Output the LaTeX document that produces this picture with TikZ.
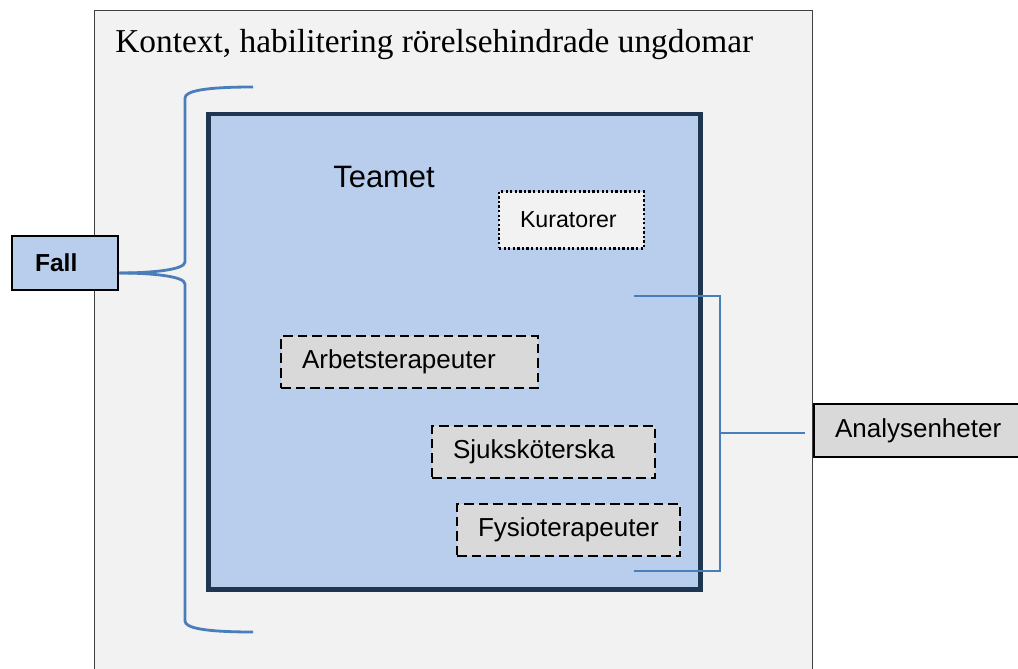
\documentclass[tikz,border=0pt]{standalone}
\usepackage{fontspec}
\setmainfont{Liberation Serif}
\setsansfont{Liberation Sans}
\definecolor{kontextgrau}{HTML}{F2F2F2}
\definecolor{boxgrau}{HTML}{D9D9D9}
\definecolor{ramgrau}{HTML}{404040}
\definecolor{teamblau}{HTML}{B8CEEC}
\definecolor{teamram}{HTML}{1F3651}
\definecolor{klammerblau}{HTML}{4A7EBB}
\tikzset{
  enhet/.style={rectangle, draw=black, fill=boxgrau, line width=1.5pt,
    dash pattern=on 5.5pt off 2.8pt, inner xsep=0.42cm, inner ysep=0pt,
    minimum height=1.04cm, align=left, font=\sffamily\fontsize{14.8}{17}\selectfont},
  rubrikbox/.style={rectangle, draw=black, line width=1.6pt, inner ysep=0pt,
    align=left, font=\sffamily\fontsize{14.8}{17}\selectfont},
  klammer/.style={draw=klammerblau, line width=1.6pt},
}
\begin{document}
\begin{tikzpicture}[x=0.02cm, y=-0.02cm]
    \useasboundingbox (0,0) rectangle (1018,669);
    % Kontext
    \fill[kontextgrau] (94.5,10.5) rectangle (812.5,680);
    \draw[ramgrau, line width=0.6pt] (94.5,680) -- (94.5,10.5) -- (812.5,10.5) -- (812.5,680);
    \node[anchor=base west, inner sep=0pt, font=\rmfamily\fontsize{19}{23}\selectfont]
        (kontext) at (115,53) {Kontext, habilitering rörelsehindrade ungdomar};
    % Teamet
    \draw[teamram, fill=teamblau, line width=2.8pt] (208.5,114) rectangle (700.5,589.5);
    \node[anchor=base west, inner sep=0pt, font=\sffamily\fontsize{17.6}{20}\selectfont]
        (teamet) at (333,188) {Teamet};
    \node[enhet, dash pattern=on 1.3pt off 1.3pt, fill=kontextgrau, minimum height=1.14cm,
        text width=2.06cm, font=\sffamily\fontsize{13.2}{15}\selectfont]
        (kuratorer) at (571.5,220) {Kuratorer};
    \node[enhet, text width=4.30cm] (arbets) at (409.5,362) {Arbetsterapeuter};
    \node[enhet, text width=3.62cm] (sjuk) at (543.5,452) {Sjuksköterska};
    \node[enhet, text width=3.62cm] (fysio) at (568.5,530) {Fysioterapeuter};
    % Fall och analysenheter
    \node[rubrikbox, fill=teamblau, inner xsep=0.46cm, text width=1.2cm, minimum height=1.08cm,
        font=\sffamily\bfseries\fontsize{14}{17}\selectfont] (fall) at (65,263) {Fall};
    \node[rubrikbox, fill=boxgrau, inner xsep=0.42cm, text width=3.32cm, minimum height=1.06cm]
        (analys) at (918,430.5) {Analysenheter};
    % klammer vänster
    \coordinate (spets) at ([yshift=-0.2cm]fall.east);
    \draw[klammer] (253,87) .. controls (205,87) and (185,91) .. (185,98) -- (185,262)
        .. controls (185,270) and (150,273) .. (spets);
    \draw[klammer] (spets) .. controls (150,273) and (185,276) .. (185,284) -- (185,621)
        .. controls (185,628) and (205,632) .. (253,632);
    % klammer höger
    \coordinate (oben) at (720,296);
    \coordinate (unten) at (720,571);
    \coordinate (mitt) at (720,433);
    \draw[klammer] (634,296) -- (oben) -- (unten) -- (634,571);
    \draw[klammer, shorten >=0.16cm] (mitt) -- (mitt -| analys.west);
\end{tikzpicture}
\end{document}
